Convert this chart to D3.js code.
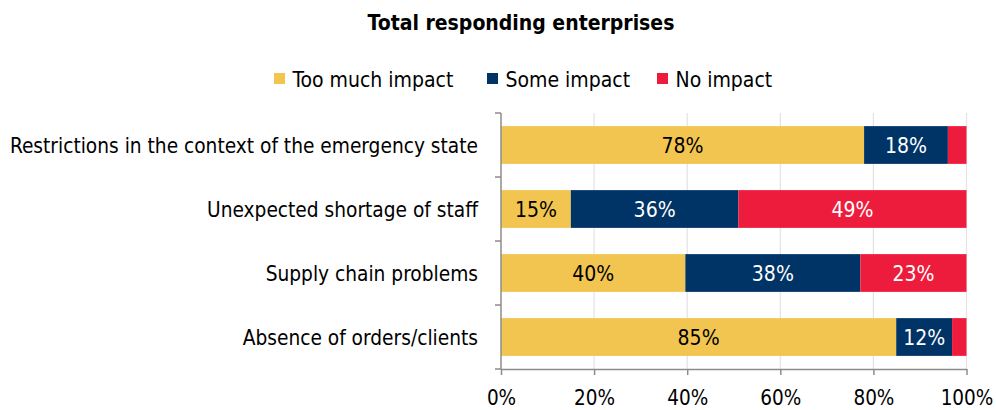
<!DOCTYPE html>
<html><head><meta charset="utf-8">
<script src="https://cdn.jsdelivr.net/npm/d3@7"></script>
<style>body{margin:0;background:#fff;} svg{display:block;} text{font-family:"DejaVu Sans Condensed","DejaVu Sans",sans-serif;}</style>
</head><body>
<svg id="chart" width="996" height="410"></svg>
<script>
const categories = ["Restrictions in the context of the emergency state","Unexpected shortage of staff","Supply chain problems","Absence of orders/clients"];
const seriesNames = ["Too much impact","Some impact","No impact"];
const tooMuch = [78.0, 15.0, 39.6, 84.9];
const some = [18.0, 36.0, 37.6, 12.0];
const none = [4.0, 49.0, 22.8, 3.1];
const tickValues = [0,20,40,60,80,100];
const colors = ["#F2C551","#003366","#EE1C3C"];
const labelColors = ["#000","#fff","#fff"];
const FS = "21px";

const svg = d3.select("#chart");
const x = d3.scaleLinear().domain([0,100]).range([501,966.5]);
const y = d3.scaleBand().domain(categories).range([113,369]).paddingInner(0.41).paddingOuter(0.205);

svg.append("text").attr("x",521).attr("y",30).attr("text-anchor","middle")
  .style("font-weight","bold").style("font-size","21px").text("Total responding enterprises");

// gridlines
svg.append("g").selectAll("line").data(tickValues.slice(1)).join("line")
  .attr("x1",d=>x(d)).attr("x2",d=>x(d)).attr("y1",113).attr("y2",369)
  .attr("stroke","#e3e3e3").attr("stroke-width",1.2);

const stackData = categories.map((c,i)=>({cat:c, a:tooMuch[i], b:some[i], c:none[i]}));
const stack = d3.stack().keys(["a","b","c"])(stackData);

const g = svg.append("g");
stack.forEach((layer,si)=>{
  const gg = g.append("g");
  gg.selectAll("rect").data(layer).join("rect")
    .attr("x",d=>x(d[0])).attr("width",d=>x(d[1])-x(d[0]))
    .attr("y",d=>y(d.data.cat)).attr("height",y.bandwidth())
    .attr("fill",colors[si]);
  gg.selectAll("text").data(layer.filter(d=>d[1]-d[0]>=5)).join("text")
    .attr("x",d=>(x(d[0])+x(d[1]))/2).attr("y",d=>y(d.data.cat)+y.bandwidth()/2)
    .attr("dy","0.37em").attr("text-anchor","middle")
    .style("font-size",FS).attr("fill",labelColors[si])
    .text(d=>Math.round(d[1]-d[0])+"%");
});

// x axis
const xAxis = svg.append("g").attr("transform","translate(0,369)")
  .call(d3.axisBottom(x).tickValues(tickValues).tickFormat(d=>d+"%").tickSize(6).tickSizeOuter(0));
xAxis.select(".domain").attr("stroke","#8c8c8c").attr("stroke-width",1.5);
xAxis.selectAll(".tick line").attr("stroke","#8c8c8c").attr("stroke-width",1.5);
xAxis.selectAll(".tick text").style("font-size","20.5px").attr("fill","#000").attr("y",35.5).attr("dy",0)
  .style("font-family","'DejaVu Sans Condensed','DejaVu Sans',sans-serif");

// y axis
const yAxisG = svg.append("g");
yAxisG.append("line").attr("x1",501).attr("x2",501).attr("y1",113).attr("y2",369).attr("stroke","#8c8c8c").attr("stroke-width",1.5);
const seps = d3.range(categories.length+1).map(i=>113 + i*(369-113)/categories.length);
yAxisG.selectAll("line.sep").data(seps).join("line").attr("class","sep")
  .attr("x1",495).attr("x2",501).attr("y1",d=>d).attr("y2",d=>d).attr("stroke","#8c8c8c").attr("stroke-width",1.5);
yAxisG.selectAll("text").data(categories).join("text")
  .attr("x",478).attr("y",d=>y(d)+y.bandwidth()/2).attr("dy","0.38em").attr("text-anchor","end")
  .style("font-size","20.7px").text(d=>d);

// legend
const legX = [274,487,657];
const leg = svg.append("g").selectAll("g").data(seriesNames).join("g")
  .attr("transform",(d,i)=>`translate(${legX[i]},73)`);
leg.append("rect").attr("width",11).attr("height",11).attr("fill",(d,i)=>colors[i]);
leg.append("text").attr("x",18.5).attr("y",14).style("font-size",FS).text(d=>d);
</script>
</body></html>
